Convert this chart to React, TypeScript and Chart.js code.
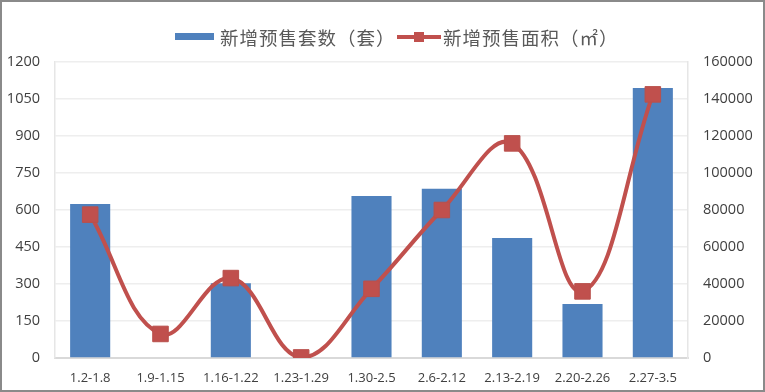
import React, { useEffect, useRef } from 'react';
import { Chart, registerables } from 'chart.js';

Chart.register(...registerables);

const categories = ['1.2-1.8', '1.9-1.15', '1.16-1.22', '1.23-1.29', '1.30-2.5', '2.6-2.12', '2.13-2.19', '2.20-2.26', '2.27-3.5'];
const unitsSold = [624, 0, 303, 0, 657, 686, 486, 219, 1095];
const areaSold = [77500, 13000, 43200, 300, 37400, 80000, 116000, 36000, 142500];
const unitsLabel = '新增预售套数（套）';
const areaLabel = '新增预售面积（㎡）';
const leftMax = 1200;
const leftStep = 150;
const rightMax = 160000;
const rightStep = 20000;

const tickFont = { family: "'Open Sans', 'Noto Sans', sans-serif", size: 14.5 };
const xFont = { family: "'Open Sans', 'Noto Sans', sans-serif", size: 13 };
const tickColor = '#404040';

export default function App() {
  const ref = useRef<HTMLCanvasElement>(null);

  useEffect(() => {
    document.body.style.margin = '0';
    const chart = new Chart(ref.current as HTMLCanvasElement, {
      data: {
        labels: categories,
        datasets: [
          {
            type: 'line',
            label: areaLabel,
            data: areaSold,
            yAxisID: 'y1',
            borderColor: '#c0504d',
            backgroundColor: '#c0504d',
            borderWidth: 4,
            tension: 0.4,
            pointStyle: 'rect',
            pointRadius: 11,
            pointBorderColor: '#b9504c',
            pointBorderWidth: 1,
            pointBackgroundColor: '#c0504d',
            order: 0,
          } as any,
          {
            type: 'bar',
            label: unitsLabel,
            data: unitsSold,
            yAxisID: 'y',
            backgroundColor: '#4f81bd',
            barPercentage: 0.57,
            categoryPercentage: 1,
            order: 1,
          } as any,
        ],
      },
      options: {
        animation: false,
        responsive: false,
        layout: { padding: { top: 60, left: 0, right: 0, bottom: 0 } },
        plugins: { legend: { display: false }, tooltip: { enabled: false } },
        scales: {
          x: {
            grid: { display: false, drawTicks: false },
            border: { color: '#d9d9d9', width: 2 },
            ticks: { font: xFont, color: tickColor, padding: 12, maxRotation: 0, autoSkip: false },
            afterFit: (s: any) => { s.height = 32; },
          },
          y: {
            position: 'left',
            min: 0,
            max: leftMax,
            ticks: { stepSize: leftStep, font: tickFont, color: tickColor, padding: 15, callback: (v: any) => String(v) },
            grid: { color: '#eeeeee', lineWidth: 1.5, drawTicks: false },
            border: { color: '#e6e6e6', width: 1.5 },
            afterFit: (s: any) => { s.width = 53; },
          },
          y1: {
            position: 'right',
            min: 0,
            max: rightMax,
            ticks: { stepSize: rightStep, font: tickFont, color: tickColor, padding: 15, callback: (v: any) => String(v) },
            grid: { display: false, drawTicks: false },
            border: { color: '#e6e6e6', width: 1.5 },
            afterFit: (s: any) => { s.width = 75; },
          },
        },
      } as any,
    });
    return () => chart.destroy();
  }, []);

  const legendText: React.CSSProperties = {
    position: 'absolute',
    fontFamily: "'Noto Sans CJK SC', sans-serif",
    fontSize: 18.5,
    letterSpacing: 1,
    lineHeight: '24px',
    color: '#595959',
    whiteSpace: 'nowrap',
    top: 23,
  };

  return (
    <div style={{ position: 'relative', width: 765, height: 392, border: '2px solid #8a8a8a', boxSizing: 'border-box', background: '#fff' }}>
      <canvas ref={ref} width={761} height={388} style={{ display: 'block', width: 761, height: 388 }} />
      <div style={{ position: 'absolute', left: 173, top: 31, width: 39, height: 7, background: '#4f81bd' }} />
      <div style={{ ...legendText, left: 218 }}>{unitsLabel}</div>
      <div style={{ position: 'absolute', left: 395, top: 33, width: 44, height: 4, background: '#c0504d' }} />
      <div style={{ position: 'absolute', left: 412, top: 30, width: 10, height: 10, background: '#c0504d' }} />
      <div style={{ ...legendText, left: 441 }}>{areaLabel}</div>
    </div>
  );
}
